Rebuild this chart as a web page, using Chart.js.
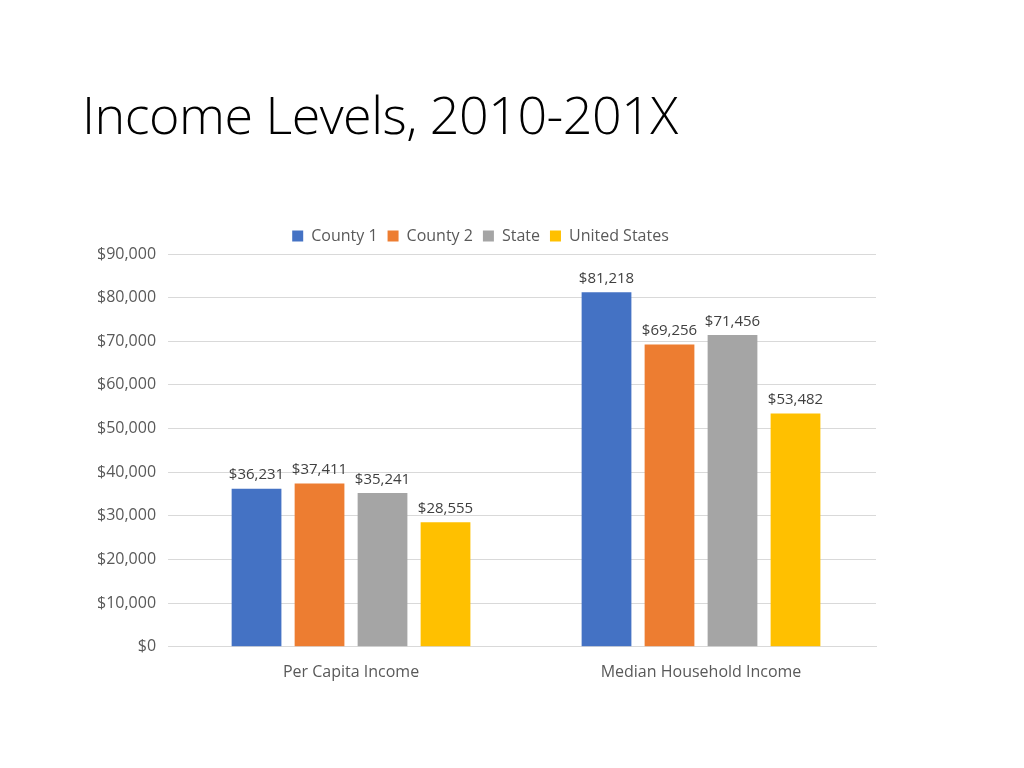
<!DOCTYPE html>
<html><head><meta charset="utf-8">
<script src="https://cdn.jsdelivr.net/npm/chart.js@4/dist/chart.umd.min.js"></script>
<style>
html,body{margin:0;padding:0;background:#fff;width:1024px;height:768px;overflow:hidden}
#t{position:absolute;left:82px;top:78px;font-family:"Open Sans",sans-serif;font-weight:300;font-size:52px;color:#000;white-space:nowrap;letter-spacing:-0.5px}
#w{position:absolute;left:0;top:0;width:1024px;height:768px}
</style></head><body>
<div id="w"><canvas id="c" width="1024" height="768"></canvas></div>
<div id="t">Income Levels, 2010-201X</div>
<script>
const categories=["Per Capita Income","Median Household Income"];
const seriesNames=["County 1","County 2","State","United States"];
const county1=[36231,81218];
const county2=[37411,69256];
const state=[35241,71456];
const us=[28555,53482];
const colors=["#4472C4","#ED7D31","#A5A5A5","#FFC000"];
const fmt=v=>"$"+v.toLocaleString("en-US");
const labelPlugin={id:"lbl",afterDatasetsDraw(ch){const ctx=ch.ctx;ctx.save();ctx.font='15px "Open Sans",sans-serif';ctx.fillStyle="#404040";ctx.textAlign="center";ctx.textBaseline="bottom";
ch.data.datasets.forEach((d,i)=>{ch.getDatasetMeta(i).data.forEach((b,j)=>{ctx.fillText(fmt(d.data[j]),b.x,b.y-6);});});ctx.restore();}};
new Chart(document.getElementById("c"),{type:"bar",
data:{labels:categories,datasets:[county1,county2,state,us].map((d,i)=>({label:seriesNames[i],data:d,backgroundColor:colors[i]}))},
options:{responsive:false,animation:false,categoryPercentage:0.72,barPercentage:0.79,
layout:{padding:{left:85,right:148,top:218,bottom:78}},
plugins:{legend:{position:"top",labels:{boxWidth:11,boxHeight:11,padding:10,color:"#595959",font:{size:16,family:"Open Sans"}}},tooltip:{enabled:false}},
scales:{x:{grid:{display:false},border:{color:"#D9D9D9"},ticks:{color:"#595959",font:{size:16,family:"Open Sans"},padding:8}},
y:{min:0,max:90000,ticks:{stepSize:10000,callback:v=>fmt(v),color:"#595959",font:{size:16,family:"Open Sans"},padding:12},grid:{color:"#D9D9D9"},border:{display:false}}}},
plugins:[labelPlugin]});
</script></body></html>
